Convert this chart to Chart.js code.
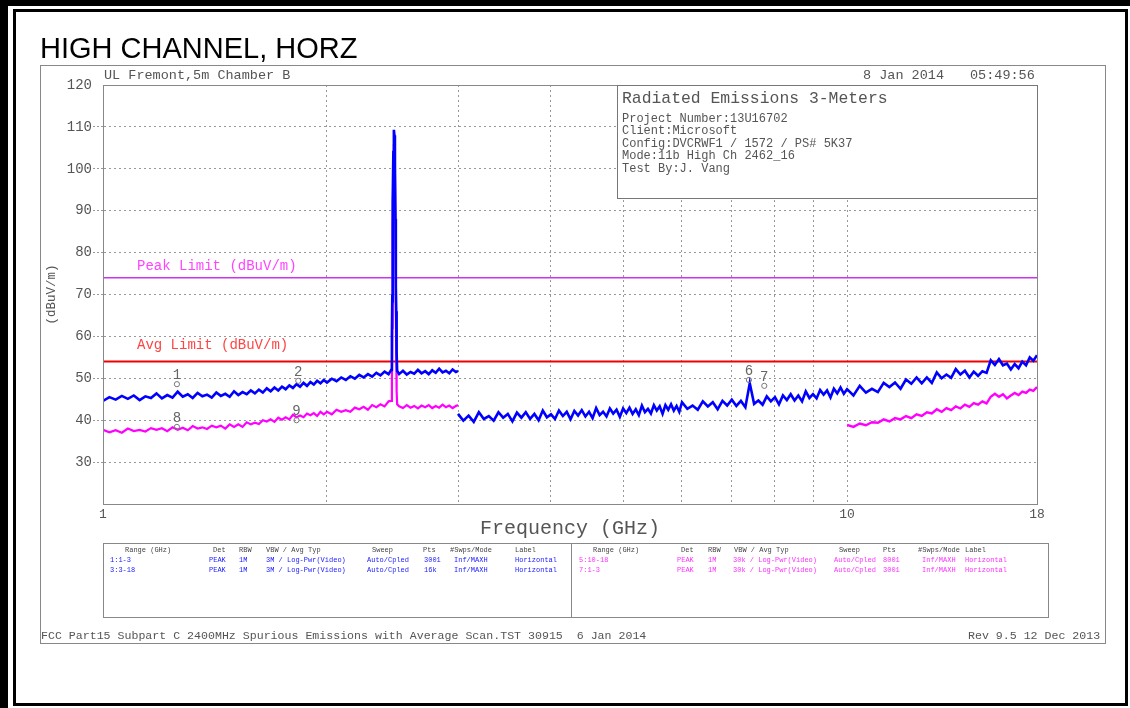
<!DOCTYPE html>
<html><head><meta charset="utf-8">
<script src="https://cdn.jsdelivr.net/npm/chart.js@4/dist/chart.umd.min.js"></script>
<style>
html,body{margin:0;padding:0;background:#fff;width:1130px;height:708px;overflow:hidden}
#wrap{position:relative;width:1130px;height:708px}
#c{position:absolute;left:0;top:0;z-index:1}
.b{position:absolute;background:#000;z-index:3}
.box{position:absolute;box-sizing:border-box;z-index:3}
.t{position:absolute;white-space:pre;font-family:"Liberation Mono","DejaVu Sans Mono",monospace;color:#555;line-height:1;z-index:4}
.bl{color:#2020ff}.mg{color:#ff30ff}.hd{color:#444}
</style></head>
<body><div id="wrap">
<canvas id="c" width="1130" height="708"></canvas>
<div class="b" style="left:0;top:0;width:1130px;height:6px"></div>
<div class="b" style="left:0;top:0;width:8px;height:708px"></div>
<div class="box" style="left:13px;top:9px;width:1115px;height:697px;border:3px solid #000"></div>
<div class="box" style="left:40px;top:65px;width:1066px;height:579px;border:1px solid #888;z-index:0"></div>
<div class="t" style="left:40px;top:34px;font-family:'Liberation Sans',Arial,sans-serif;font-size:29px;color:#000">HIGH CHANNEL, HORZ</div>
<div class="t" style="left:104px;top:69px;font-size:13.5px">UL Fremont,5m Chamber B</div>
<div class="t" style="left:863px;top:69px;font-size:13.5px">8 Jan 2014</div>
<div class="t" style="left:970px;top:69px;font-size:13.5px">05:49:56</div>
<div class="box" style="left:617px;top:85px;width:421px;height:114px;border:1px solid #777;background:#fff"></div>
<div class="t" style="left:622px;top:91px;font-size:16.4px">Radiated Emissions 3-Meters</div>
<div class="t" style="left:622px;top:112.7px;font-size:12px">Project Number:13U16702</div>
<div class="t" style="left:622px;top:125.2px;font-size:12px">Client:Microsoft</div>
<div class="t" style="left:622px;top:137.7px;font-size:12px">Config:DVCRWF1 / 1572 / PS# 5K37</div>
<div class="t" style="left:622px;top:150.2px;font-size:12px">Mode:11b High Ch 2462_16</div>
<div class="t" style="left:622px;top:162.7px;font-size:12px">Test By:J. Vang</div>
<div class="t" style="left:137px;top:258.8px;font-size:14px;color:#ff44ff">Peak Limit (dBuV/m)</div>
<div class="t" style="left:137px;top:337.8px;font-size:14px;color:#ff4444">Avg Limit (dBuV/m)</div>
<div class="box" style="left:103px;top:543px;width:946px;height:75px;border:1px solid #888"></div>
<div class="box" style="left:571px;top:543px;width:1px;height:75px;background:#888"></div>
<div id="tbl"></div>
<div class="t" style="left:41px;top:630px;font-size:11.6px">FCC Part15 Subpart C 2400MHz Spurious Emissions with Average Scan.TST 30915  6 Jan 2014</div>
<div class="t" style="left:968px;top:630px;font-size:11.6px">Rev 9.5 12 Dec 2013</div>
</div>
<script>
// ---------- DATA ----------
const lowFreq = [1.00,1.02,1.04,1.06,1.08,1.10,1.12,1.14,1.16,1.18,1.20,1.22,1.24,1.26,1.28,1.30,1.32,1.34,1.36,1.38,1.40,1.42,1.44,1.46,1.48,1.50,1.52,1.54,1.56,1.58,1.60,1.62,1.64,1.66,1.68,1.70,1.72,1.74,1.76,1.78,1.80,1.82,1.84,1.86,1.88,1.90,1.92,1.94,1.96,1.98,2.00,2.03,2.06,2.09,2.12,2.15,2.18,2.21,2.24,2.27,2.30,2.33,2.36,2.39,2.42];
const peakFreq = [2.440,2.445,2.448,2.450,2.452,2.456,2.460,2.464,2.468,2.472,2.475,2.478,2.481,2.485];
const postFreq = [2.50,2.53,2.56,2.59,2.62,2.65,2.68,2.71,2.74,2.77,2.80,2.83,2.86,2.89,2.92,2.95,2.98,3.00];
const highFreq = [3.00,3.05,3.10,3.15,3.20,3.25,3.30,3.35,3.40,3.45,3.50,3.55,3.60,3.65,3.70,3.75,3.80,3.85,3.90,3.95,4.00,4.05,4.10,4.15,4.20,4.25,4.30,4.35,4.40,4.45,4.50,4.55,4.60,4.65,4.70,4.75,4.80,4.85,4.90,4.95,5.00,5.05,5.10,5.15,5.20,5.25,5.30,5.35,5.40,5.45,5.50,5.55,5.60,5.65,5.70,5.75,5.80,5.85,5.90,5.95,6.00,
 6.1,6.2,6.3,6.4,6.5,6.6,6.7,6.8,6.9,7.0,7.1,7.2,7.3,7.4,7.5,7.6,7.7,7.8,7.9,8.0,8.1,8.2,8.3,8.4,8.5,8.6,8.7,8.8,8.9,9.0,9.1,9.2,9.3,9.4,9.5,9.6,9.7,9.8,9.9,10.0,
 10.2,10.4,10.6,10.8,11.0,11.2,11.4,11.6,11.8,12.0,12.2,12.4,12.6,12.8,13.0,13.2,13.4,13.6,13.8,14.0,14.2,14.4,14.6,14.8,15.0,15.2,15.4,15.6,15.8,16.0,16.2,16.4,16.6,16.8,17.0,17.2,17.4,17.6,17.8,18.0];
const avgHighFreq = [10.0,10.2,10.4,10.6,10.8,11.0,11.2,11.4,11.6,11.8,12.0,12.2,12.4,12.6,12.8,13.0,13.2,13.4,13.6,13.8,14.0,14.2,14.4,14.6,14.8,15.0,15.2,15.4,15.6,15.8,16.0,16.2,16.4,16.6,16.8,17.0,17.2,17.4,17.6,17.8,18.0];

// 1:1-3 (blue, peak detector)
const blueLowLevel = [44.6,45.5,44.9,45.8,45.1,45.9,44.8,45.7,45.3,46.4,45.2,46.0,45.4,46.8,45.6,46.2,45.3,46.5,45.7,46.1,45.4,46.6,45.8,46.3,45.6,46.9,46.0,46.7,46.2,47.1,46.4,47.3,46.6,47.6,46.9,47.8,47.1,48.0,47.4,48.3,47.7,48.6,48.0,48.9,48.2,49.1,48.5,49.4,48.8,49.6,49.0,49.9,49.3,50.2,49.6,50.5,49.9,50.8,50.2,51.0,50.4,51.3,50.7,51.6,51.0];
const bluePeakLevel = [52,60,70,68,92,104,109.3,108,101,88,72,66,56,51.8];
const bluePostLevel = [51.0,51.8,50.9,51.5,51.1,52.0,51.2,51.7,51.0,51.9,51.3,52.3,51.4,51.8,51.2,52.1,51.5,51.8];
// 3:3-18 (blue, peak detector)
const blueHighLevel = [41.5,39.9,41.1,39.6,41.9,40.3,41.0,39.9,41.9,40.6,41.5,39.7,41.8,40.6,41.9,40.3,41.5,40.0,42.3,40.7,41.4,40.3,42.3,41.0,42.0,40.2,42.2,41.1,42.4,40.9,42.0,40.5,42.9,41.2,42.0,40.9,42.8,41.6,42.5,40.8,42.8,41.7,43.0,41.5,42.6,41.2,43.5,41.9,42.7,41.6,43.6,42.3,43.3,41.5,43.6,42.5,43.8,42.3,43.4,42.0,44.3,
 42.7,43.5,42.5,44.5,43.3,44.3,42.6,44.6,43.5,44.9,43.4,44.6,43.1,48.8,43.9,44.7,43.7,45.7,44.5,45.5,43.8,45.9,44.8,46.2,44.7,45.9,44.5,46.9,45.3,46.2,45.2,47.2,46.1,47.1,45.4,47.5,46.4,47.8,46.3,47.4,
 45.9,48.2,46.6,47.5,46.7,48.9,47.9,49.0,47.5,49.7,48.7,50.2,48.8,50.2,48.9,51.4,50.0,50.9,50.1,52.2,50.9,51.8,50.2,51.6,50.6,51.7,51.3,54.3,53.2,54.6,53.1,53.5,52.1,53.4,52.4,54.0,53.1,55.0,54.2,55.5];
// 7:1-3 (magenta, average)
const magentaLowLevel = [37.7,37.1,37.6,37.0,38.0,37.4,37.7,37.3,38.1,37.7,38.1,37.4,38.3,37.7,38.2,37.6,38.6,38.0,38.3,37.9,38.7,38.3,38.7,38.0,39.0,38.4,39.0,38.4,39.5,39.0,39.4,39.1,40.0,39.7,40.2,39.6,40.6,40.1,40.7,40.2,41.3,40.7,41.1,40.7,41.6,41.2,41.7,41.0,42.0,41.4,42.0,41.4,42.5,42.0,42.4,42.0,43.0,42.6,43.2,42.5,43.6,43.1,43.8,43.3,44.5];
const magentaPeakLevel = [44.6,50,62,70,86,100,106,105,99,85,66,56,47,43.8];
const magentaPostLevel = [43.3,42.9,43.6,43.0,43.4,42.8,43.5,43.1,43.6,42.9,43.4,43.0,43.7,43.1,43.5,42.9,43.4,43.6];
// 5:10-18 (magenta, average)
const magentaHighLevel = [38.9,38.4,39.2,38.8,39.5,39.4,40.2,39.7,40.5,40.2,41.0,40.5,41.4,41.0,41.9,41.6,42.6,42.0,42.9,42.4,43.3,42.8,43.7,43.2,44.1,43.7,44.5,44.0,45.6,46.3,45.6,46.2,45.2,45.9,46.5,46.0,46.8,46.5,47.3,47.0,47.9];

const peakLimit = 74;
const avgLimit = 54;
const markerLabels = ['1','2','6','7','8','9'];
const markerFreq = [1.257,1.83,7.38,7.74,1.257,1.82];
const markerLevel = [48.6,49.4,49.6,48.2,38.4,40.0];

const xTickValues = [1,2,3,4,5,6,7,8,9,10,18];
const xTickLabels = [1,10,18];
const yMin = 20, yMax = 120, yStep = 10;

// legend table text
const tableHeader = ['Range (GHz)','Det','RBW','VBW / Avg Typ','Sweep','Pts','#Swps/Mode','Label'];
const tableRowsLeft = [['1:1-3','PEAK','1M','3M / Log-Pwr(Video)','Auto/Cpled','3001','Inf/MAXH','Horizontal'],
                       ['3:3-18','PEAK','1M','3M / Log-Pwr(Video)','Auto/Cpled','16k','Inf/MAXH','Horizontal']];
const tableRowsRight = [['5:10-18','PEAK','1M','30k / Log-Pwr(Video)','Auto/Cpled','8001','Inf/MAXH','Horizontal'],
                        ['7:1-3','PEAK','1M','30k / Log-Pwr(Video)','Auto/Cpled','3001','Inf/MAXH','Horizontal']];

// ---------- TABLE (HTML text) ----------
(function(){
  const tbl = document.getElementById('tbl');
  const add = (txt, left, top, cls) => {
    const d = document.createElement('div');
    d.className = 't ' + cls; d.textContent = txt;
    d.style.left = left + 'px'; d.style.top = top + 'px'; d.style.fontSize = '7px';
    tbl.appendChild(d);
  };
  const hL = [125,213,239,266,372,423,450,515], rL = [110,209,239,266,367,424,454,515];
  const hR = [593,681,708,734,839,883,918,965], rR = [579,677,708,733,834,883,922,965];
  tableHeader.forEach((h,i)=>{ add(h,hL[i],547,'hd'); add(h,hR[i],547,'hd'); });
  tableRowsLeft.forEach((r,j)=> r.forEach((c,i)=> add(c,rL[i],557+10*j,'bl')));
  tableRowsRight.forEach((r,j)=> r.forEach((c,i)=> add(c,rR[i],557+10*j,'mg')));
})();

// ---------- CHART ----------
const mono = '"Liberation Mono","DejaVu Sans Mono",monospace';
const pts = (fs, vs) => fs.map((f,i)=>({x:f, y:vs[i]}));
const trace = (label, data, color, w) => ({label, data, borderColor:color, backgroundColor:color, borderWidth:w, pointRadius:0, tension:0, fill:false, borderJoinStyle:'miter'});

const frame = {
  id:'frame',
  afterDatasetsDraw(chart){
    const {ctx, scales:{x, y}} = chart;
    ctx.save();
    ctx.font = '14px ' + mono; ctx.fillStyle = '#666'; ctx.textAlign = 'center'; ctx.textBaseline = 'alphabetic';
    markerLabels.forEach((lab,i)=>{
      const px = x.getPixelForValue(markerFreq[i]), py = y.getPixelForValue(markerLevel[i]);
      ctx.fillText(lab, px, py - 5);
    });
    ctx.restore();
  },
  afterDraw(chart){
    const {ctx, chartArea:a} = chart;
    ctx.save(); ctx.strokeStyle = '#888'; ctx.lineWidth = 1;
    ctx.strokeRect(Math.round(a.left)+0.5, Math.round(a.top)+0.5, Math.round(a.right-a.left), Math.round(a.bottom-a.top));
    ctx.restore();
  }
};

new Chart(document.getElementById('c'), {
  type:'line',
  data:{datasets:[
    {label:'markers', data:pts(markerFreq, markerLevel), showLine:false, pointRadius:2.6, pointBorderWidth:1, pointBorderColor:'#777', pointBackgroundColor:'rgba(255,255,255,0)', borderColor:'#777'},
    trace('1:1-3', pts(lowFreq.concat(peakFreq, postFreq), blueLowLevel.concat(bluePeakLevel, bluePostLevel)), '#0000ff', 2.6),
    trace('3:3-18', pts(highFreq, blueHighLevel), '#0000ff', 2.6),
    trace('7:1-3', pts(lowFreq.concat(peakFreq, postFreq), magentaLowLevel.concat(magentaPeakLevel, magentaPostLevel)), '#ff00ff', 2.2),
    trace('5:10-18', pts(avgHighFreq, magentaHighLevel), '#ff00ff', 2.4),
    {label:'Peak Limit', data:[{x:1,y:peakLimit},{x:18,y:peakLimit}], borderColor:'#cc33ee', borderWidth:1.5, pointRadius:0},
    {label:'Avg Limit', data:[{x:1,y:avgLimit},{x:18,y:avgLimit}], borderColor:'#ee0000', borderWidth:2, pointRadius:0}
  ]},
  options:{
    responsive:false, animation:false, parsing:true,
    layout:{padding:{left:40, top:85, right:93, bottom:164}},
    plugins:{legend:{display:false}, tooltip:{enabled:false}},
    scales:{
      x:{type:'logarithmic', min:1, max:18,
        afterBuildTicks:(s)=>{ s.ticks = xTickValues.map(v=>({value:v})); },
        afterFit:(s)=>{ s.height = 40; },
        ticks:{autoSkip:false, maxRotation:0, color:'#555', padding:3, font:{family:mono, size:13},
          callback:(v)=> xTickLabels.includes(v) ? String(v) : ''},
        grid:{color:'#999', lineWidth:1, drawTicks:false},
        border:{display:true, color:'#888', dash:[2,3]},
        title:{display:true, text:'Frequency (GHz)', color:'#555', font:{family:mono, size:20}, padding:{top:0,bottom:3}}
      },
      y:{type:'linear', min:yMin, max:yMax,
        afterFit:(s)=>{ s.width = 63; },
        ticks:{stepSize:yStep, color:'#555', padding:1, font:{family:mono, size:14},
          callback:(v)=> v===yMin ? '' : String(v)},
        grid:{color:'#999', lineWidth:1, tickLength:10, drawTicks:true, tickBorderDash:[2,2],
          tickColor:(c)=> (c.tick && (c.tick.value===yMin || c.tick.value===yMax)) ? 'rgba(0,0,0,0)' : '#999'},
        border:{display:true, color:'#888', dash:[2,3]},
        title:{display:true, text:'(dBuV/m)', color:'#555', font:{family:mono, size:12.5}, padding:{top:4,bottom:0}}
      }
    }
  },
  plugins:[frame]
});
</script>
</body></html>
